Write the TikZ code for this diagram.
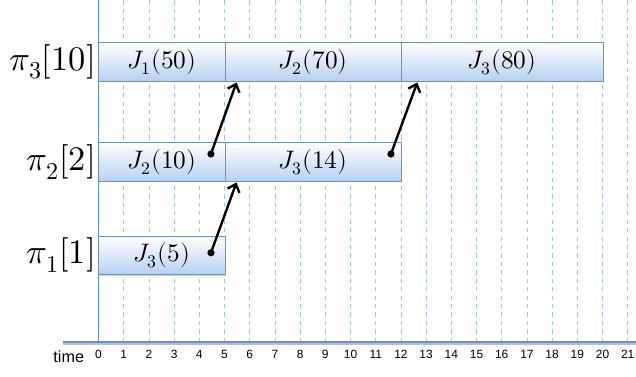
\documentclass[tikz,border=0pt]{standalone}
\usepackage{amsmath}
\usepackage{fontspec}
\usepackage{unicode-math}
\setmathfont{Latin Modern Math}
\newfontfamily\ticksf{Liberation Sans}
\usepackage{xcolor}
\usepackage{tikz}
\usetikzlibrary{arrows.meta,positioning,calc,shadows}
\definecolor{axisblue}{RGB}{100,145,200}
\definecolor{gridblue}{RGB}{160,195,235}
\definecolor{barline}{RGB}{115,145,185}
\definecolor{barfill}{RGB}{182,208,242}

\begin{document}
\begin{tikzpicture}[>={Straight Barb[length=5pt,width=9pt]},x=0.63cm,y=1cm,
  every node/.style={font=\fontsize{18}{21}\selectfont},
  jobbar/.style={draw=barline,line width=.6pt,top color=white,bottom color=barfill,
    minimum height=.96cm,inner sep=0pt,anchor=west,
    drop shadow={shadow xshift=.6pt,shadow yshift=-.8pt,opacity=.35}},
  rowlabel/.style={anchor=east,inner sep=0pt,font=\fontsize{24.5}{29}\selectfont},
  tick/.style={font=\ticksf\fontsize{8.5}{10}\selectfont}]
\useasboundingbox (-2.4625cm,-0.85cm) rectangle (13.4375cm,8.55cm);
% grid
\draw[gridblue,dashed,line width=.5pt] (1,0)--(1,8.55);
\draw[gridblue,dashed,line width=.5pt] (2,0)--(2,8.55);
\draw[gridblue,dashed,line width=.5pt] (3,0)--(3,8.55);
\draw[gridblue,dashed,line width=.5pt] (4,0)--(4,8.55);
\draw[gridblue,dashed,line width=.5pt] (5,0)--(5,8.55);
\draw[gridblue,dashed,line width=.5pt] (6,0)--(6,8.55);
\draw[gridblue,dashed,line width=.5pt] (7,0)--(7,8.55);
\draw[gridblue,dashed,line width=.5pt] (8,0)--(8,8.55);
\draw[gridblue,dashed,line width=.5pt] (9,0)--(9,8.55);
\draw[gridblue,dashed,line width=.5pt] (10,0)--(10,8.55);
\draw[gridblue,dashed,line width=.5pt] (11,0)--(11,8.55);
\draw[gridblue,dashed,line width=.5pt] (12,0)--(12,8.55);
\draw[gridblue,dashed,line width=.5pt] (13,0)--(13,8.55);
\draw[gridblue,dashed,line width=.5pt] (14,0)--(14,8.55);
\draw[gridblue,dashed,line width=.5pt] (15,0)--(15,8.55);
\draw[gridblue,dashed,line width=.5pt] (16,0)--(16,8.55);
\draw[gridblue,dashed,line width=.5pt] (17,0)--(17,8.55);
\draw[gridblue,dashed,line width=.5pt] (18,0)--(18,8.55);
\draw[gridblue,dashed,line width=.5pt] (19,0)--(19,8.55);
\draw[gridblue,dashed,line width=.5pt] (20,0)--(20,8.55);
\draw[gridblue,dashed,line width=.5pt] (21,0)--(21,8.55);
% axes
\draw[black!25,line width=1pt] (-1.41,-0.05)--(21.33,-0.05);
\draw[axisblue,line width=1.4pt] (-1.41,0)--(21.33,0);
\draw[axisblue,line width=1.4pt] (0,0)--(0,8.55);
% time ticks
\node[tick] (t0) at (0,-0.3) {0};
\node[tick] (t1) at (1,-0.3) {1};
\node[tick] (t2) at (2,-0.3) {2};
\node[tick] (t3) at (3,-0.3) {3};
\node[tick] (t4) at (4,-0.3) {4};
\node[tick] (t5) at (5,-0.3) {5};
\node[tick] (t6) at (6,-0.3) {6};
\node[tick] (t7) at (7,-0.3) {7};
\node[tick] (t8) at (8,-0.3) {8};
\node[tick] (t9) at (9,-0.3) {9};
\node[tick] (t10) at (10,-0.3) {10};
\node[tick] (t11) at (11,-0.3) {11};
\node[tick] (t12) at (12,-0.3) {12};
\node[tick] (t13) at (13,-0.3) {13};
\node[tick] (t14) at (14,-0.3) {14};
\node[tick] (t15) at (15,-0.3) {15};
\node[tick] (t16) at (16,-0.3) {16};
\node[tick] (t17) at (17,-0.3) {17};
\node[tick] (t18) at (18,-0.3) {18};
\node[tick] (t19) at (19,-0.3) {19};
\node[tick] (t20) at (20,-0.3) {20};
\node[tick] (t21) at (21,-0.3) {21};
\node[font=\ticksf\fontsize{11.5}{13}\selectfont] (tlabel) at (-1.18,-0.37) {time};
% processors
\node[rowlabel] (p3) at (-0.1,7.0) {$\pi_3[10]$};
\node[rowlabel] (p2) at (-0.1,4.5) {$\pi_2[2]$};
\node[rowlabel] (p1) at (-0.1,2.17) {$\pi_1[1]$};
% jobs
\node[jobbar,minimum width=3.15cm] (p3j1) at (0,7.0) {$J_1(50)$};
\node[jobbar,minimum width=4.41cm] (p3j2) at (5,7.0) {$J_2(70)$};
\node[jobbar,minimum width=5.04cm] (p3j3) at (12,7.0) {$J_3(80)$};
\node[jobbar,minimum width=3.15cm] (p2j2) at (0,4.5) {$J_2(10)$};
\node[jobbar,minimum width=4.41cm] (p2j3) at (5,4.5) {$J_3(14)$};
\node[jobbar,minimum width=3.15cm] (p1j3) at (0,2.17) {$J_3(5)$};
% transfers
\coordinate (d1) at ($(p2j2.east)+(-0.36cm,0.2)$);
\coordinate (e1) at ($(p3j2.south west)+(0.3cm,-0.02)$);
\coordinate (d2) at ($(p2j3.east)+(-0.27cm,0.2)$);
\coordinate (e2) at ($(p3j3.south west)+(0.41cm,-0.02)$);
\coordinate (d3) at ($(p1j3.east)+(-0.36cm,0.06)$);
\coordinate (e3) at ($(p2j3.south west)+(0.3cm,-0.02)$);
\draw[->,line width=1.7pt] (d1)--(e1);
\draw[->,line width=1.7pt] (d2)--(e2);
\draw[->,line width=1.7pt] (d3)--(e3);
\fill (d1) circle (0.09cm);
\fill (d2) circle (0.09cm);
\fill (d3) circle (0.09cm);
\end{tikzpicture}
\end{document}
